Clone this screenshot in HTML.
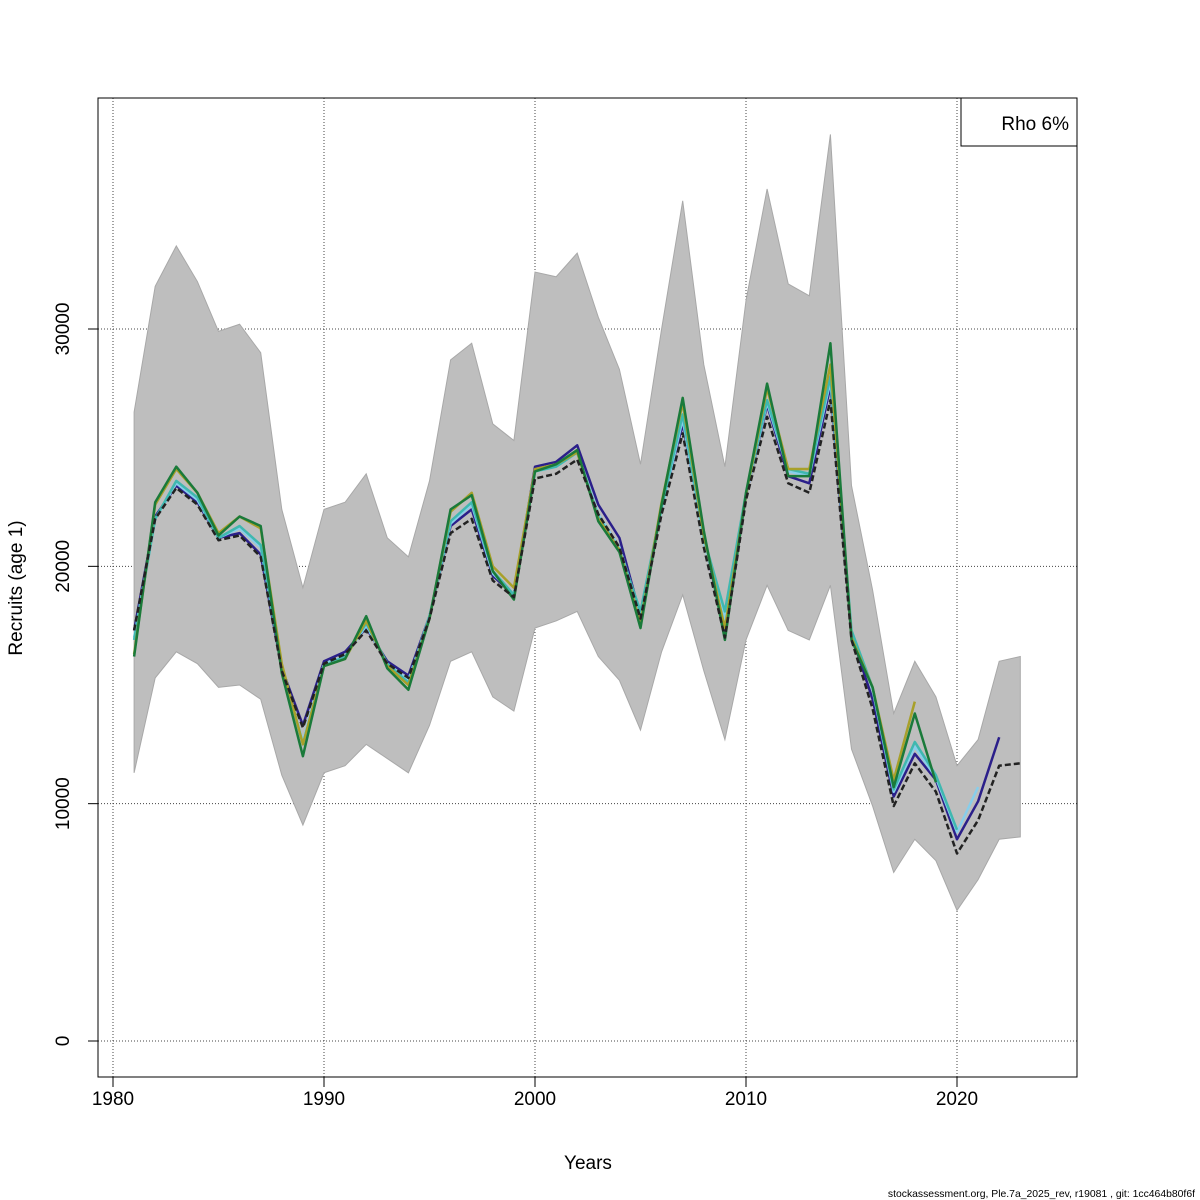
<!DOCTYPE html>
<html><head><meta charset="utf-8"><style>
html,body{margin:0;padding:0;background:#fff;}
svg{display:block;font-family:"Liberation Sans",sans-serif;}
</style></head><body>
<svg id="chart" width="1200" height="1200" xmlns="http://www.w3.org/2000/svg">
<g id="grid"></g>
<g id="band"></g>
<g id="lines"></g>
<g id="axes"></g>
<rect x="98" y="98" width="979" height="979" fill="none" stroke="#000" stroke-width="1"/>
<g>
<rect x="961" y="98" width="116" height="48" fill="#fff" stroke="#000" stroke-width="1"/>
<text x="1069" y="130" font-size="19" text-anchor="end">Rho 6%</text>
</g>
<text x="588" y="1169" font-size="19" text-anchor="middle">Years</text>
<text transform="translate(22,588) rotate(-90)" font-size="19" text-anchor="middle">Recruits (age 1)</text>
<text x="1195" y="1197" font-size="10.4" text-anchor="end">stockassessment.org, Ple.7a_2025_rev, r19081 , git: 1cc464b80f6f</text>
</svg>
<script>
const years = [1981,1982,1983,1984,1985,1986,1987,1988,1989,1990,1991,1992,1993,1994,1995,1996,1997,1998,1999,2000,2001,2002,2003,2004,2005,2006,2007,2008,2009,2010,2011,2012,2013,2014,2015,2016,2017,2018,2019,2020,2021,2022,2023];
const upper = [26500,31800,33500,32000,29900,30200,29000,22400,19100,22400,22700,23900,21200,20400,23600,28700,29400,26000,25300,32400,32200,33200,30500,28300,24300,30000,35400,28500,24200,31200,35900,31900,31400,38200,23400,19000,13800,16000,14500,11600,12700,16000,16200];
const lower = [11300,15300,16400,15900,14900,15000,14400,11200,9100,11300,11600,12500,11900,11300,13300,16000,16400,14500,13900,17400,17700,18100,16200,15200,13100,16400,18800,15600,12700,16900,19200,17300,16900,19200,12300,9900,7100,8500,7600,5500,6800,8500,8600];
const base = [17300,22000,23300,22600,21100,21300,20400,15600,13200,15900,16300,17300,15900,15300,17800,21400,22000,19400,18700,23700,23900,24500,22200,20800,17800,22200,25600,20800,17000,22800,26300,23500,23100,27000,16900,14000,9900,11700,10500,7900,9300,11600,11700];
const navy = [17300,22100,23400,22700,21200,21400,20500,15700,13300,16000,16400,17400,16000,15400,17900,21700,22400,19600,18800,24200,24400,25100,22600,21200,17900,22500,26000,21200,17200,23000,26800,23800,23500,27600,17100,14400,10300,12100,11000,8500,10100,12800];
const lightblue = [17000,22000,23500,22800,21200,21600,20800,15800,12600,15900,16200,17500,15900,15200,17900,21800,22600,19700,18800,24000,24200,24800,22200,20800,18000,22400,26200,21000,17800,23000,26900,24000,23800,27800,17300,14800,10500,12400,11100,8800,10700];
const teal = [16900,22000,23600,22900,21200,21700,20900,15800,12500,15800,16200,17600,15900,15100,17900,21900,22700,19800,18800,24000,24200,24800,22100,20700,18100,22500,26400,21200,18100,23100,27000,24100,23900,28000,17300,14900,10600,12600,11200,8900];
const green = [16200,22700,24200,23100,21300,22100,21700,15500,12000,15800,16100,17900,15700,14800,17800,22400,23000,19800,18600,24000,24300,24900,21900,20600,17400,22600,27100,21500,16900,23100,27700,23800,23800,29400,16900,14900,10700,13800,10900];
const olive = [16300,22600,24100,23100,21400,22100,21600,15900,12500,15800,16100,17700,15800,15000,17800,22300,23100,20000,19100,24100,24300,24800,22000,20700,17600,22700,26900,21300,17400,23000,27500,24100,24100,28500,17000,14900,11000,14300];
const xTicks = [1980,1990,2000,2010,2020];
const yTicks = [0,10000,20000,30000];
const NS = "http://www.w3.org/2000/svg";
function xs(v){return 113 + (v-1980)*21.1;}
function ys(v){return 1041 - v*0.023733;}
function mk(tag, attrs, parent){const e=document.createElementNS(NS,tag);for(const k in attrs)e.setAttribute(k,attrs[k]);parent.appendChild(e);return e;}
const grid=document.getElementById('grid'), axes=document.getElementById('axes'), band=document.getElementById('band'), lines=document.getElementById('lines');
xTicks.forEach(t=>{
  const l=mk('line',{x1:xs(t),x2:xs(t),y1:98,y2:1077,stroke:'#444','stroke-dasharray':'1,2'},grid);
  
  
  const tk=mk('line',{x1:xs(t),x2:xs(t),y1:1077,y2:1087,stroke:'#000'},axes);
  
  
  const tx=mk('text',{x:xs(t),y:1105,'font-size':19,'text-anchor':'middle'},axes);
  tx.textContent=t;
  
  
});
yTicks.forEach(t=>{
  const l=mk('line',{x1:98,x2:1077,y1:ys(t),y2:ys(t),stroke:'#444','stroke-dasharray':'1,2'},grid);
  
  
  const tk=mk('line',{x1:88,x2:98,y1:ys(t),y2:ys(t),stroke:'#000'},axes);
  
  
  const tx=mk('text',{transform:`translate(69,${ys(t)}) rotate(-90)`,'font-size':19,'text-anchor':'middle'},axes);
  tx.textContent=t;
  
  
});
let pts=years.map((y,i)=>xs(y)+','+ys(upper[i]));
for(let i=years.length-1;i>=0;i--)pts.push(xs(years[i])+','+ys(lower[i]));
const poly=mk('polygon',{points:pts.join(' '),fill:'#bebebe',stroke:'#a8a8a8','stroke-width':1},band);


function line(arr,color,name,dash){
  const p=mk('polyline',{points:arr.map((v,i)=>xs(years[i])+','+ys(v)).join(' '),fill:'none',stroke:color,'stroke-width':2.5,'stroke-linejoin':'round'},lines);
  if(dash)p.setAttribute('stroke-dasharray','6,3');
  
  
}
line(navy,'#2b1f8a','series-peel-2022');
line(lightblue,'#87ceeb','series-peel-2021');
line(teal,'#3fb8b0','series-peel-2020');
line(olive,'#a8a02a','series-peel-2018');
line(green,'#1a7a3a','series-peel-2019');
line(base,'#222222','series-base-2023',true);
</script>
</body></html>
